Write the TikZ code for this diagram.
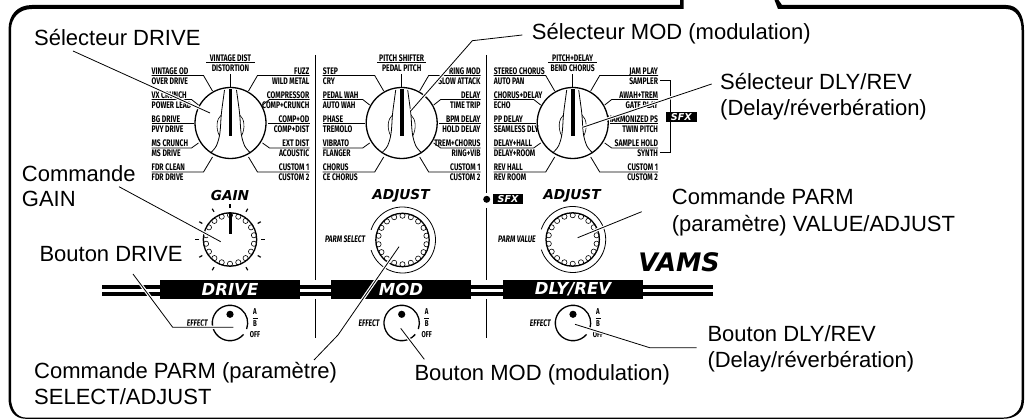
\documentclass[tikz,border=0pt]{standalone}
\usepackage{fontspec}
\setmainfont{Liberation Sans}
\newfontfamily\dialfont[FakeStretch=0.72]{Fira Sans}
\newfontfamily\headfont[BoldFeatures={FakeBold=1.6}]{DejaVu Sans}
\usepackage{tikz}
\usetikzlibrary{positioning,calc}

% one row of labels round a selector
\newcommand{\dialrows}[4]{%
  \foreach \row/\up/\lo in {#4} {
    \pgfmathsetmacro{\ry}{{-47.5,-23.5,0.5,25,49}[\row-1]}
    \pgfmathsetmacro{\knee}{{27,39,37,39,27}[\row-1]}
    \pgfmathsetmacro{\ex}{{18,32,37,32,18}[\row-1]}
    \pgfmathsetmacro{\ey}{{-32,-18,0.5,20,34}[\row-1]}
    \node[dialtext, anchor=base #2] (#1-\row a) at (#3,\ry-1.3) {\up};
    \node[dialtext, anchor=base #2] (#1-\row b) at (#3,\ry+8.7) {\lo};
    \ifdim #3pt<0pt
      \draw[dialrule] (#3,\ry) -- (-\knee,\ry) -- (-\ex,\ey);
    \else
      \draw[dialrule] (#3,\ry) -- (\knee,\ry) -- (\ex,\ey);
    \fi
  }
}
% selector: name, x, right edge, top labels, left rows, right rows
\newcommand{\selectordial}[7]{%
  \begin{scope}[shift={(#2,123)}]
    \node[dialtext, anchor=base] (#1-topa) at (0,-61.6) {#4};
    \node[dialtext, anchor=base] (#1-topb) at (0,-51.6) {#5};
    \draw[dialrule] (-24.5,-60.3) -- (24.5,-60.3);
    \draw[dialrule] (0,-49) -- (0,-36);
    \dialrows{#1-l}{west}{-79}{#6}
    \dialrows{#1-r}{east}{#3}{#7}
    \draw[knobline] (0,0) circle (35.5);
    \foreach \side in {1,-1} {
      \draw[dialrule, xscale=\side] (6,-33) .. controls (8,-18) and (9,-12) .. (9.5,-5)
        .. controls (10,3) and (10,12) .. (13,20) .. controls (14,24) and (17,27) .. (20,30);
      \draw[thinline, xscale=\side] (9.3,-8) .. controls (14,-4) and (15,5) .. (11,13);
    }
    \fill (-1.8,-34) rectangle (1.8,13);
  \end{scope}
}
% scalloped knob ring
\newcommand{\scallopring}[3]{%
  \begin{scope}[shift={(#2,#3)}]
    \foreach \ang in {10,30,...,350}
      \draw[thinline, fill=white] (\ang:24.3) circle (2.6);
    \draw[knobline] (0,0) circle (26.7);
  \end{scope}
}
% on/off switch
\newcommand{\effectswitch}[2]{%
  \begin{scope}[shift={(#2,323)}]
    \draw[knobline] (40:17.7) arc (40:380:17.7);
    \fill (0,-8.7) circle (3.6);
    \node[dialtext, anchor=east] (#1-effect) at (-22,0) {\itshape EFFECT};
    \node[dialtext, font=\dialfont\bfseries\fontsize{8.5}{9}\selectfont] (#1-a) at (25,-11) {A};
    \node[dialtext, font=\dialfont\bfseries\fontsize{8.5}{9}\selectfont] (#1-b) at (25,0.7) {B};
    \node[dialtext, font=\dialfont\bfseries\fontsize{8.5}{9}\selectfont] (#1-off) at (25,12) {OFF};
    \draw[dialrule] (22.5,-5) -- (27.5,-5);
  \end{scope}
}

\begin{document}
\begin{tikzpicture}[
  x=1pt, y=-1pt,
  dialtext/.style={font=\dialfont\bfseries\fontsize{9.5}{10}\selectfont, inner sep=0pt},
  dialrule/.style={line width=0.8pt},
  thinline/.style={line width=0.6pt},
  knobline/.style={line width=1.3pt},
  divider/.style={line width=1.4pt},
  gaintick/.style={line width=1.2pt},
  heading/.style={font=\headfont\bfseries\itshape\fontsize{13.7}{14}\selectfont, inner sep=0pt},
  bandbox/.style={fill=black, text=white, minimum width=140pt, minimum height=19pt, inner sep=0pt,
    font=\headfont\bfseries\itshape\fontsize{16.5}{17}\selectfont},
  sfxbox/.style={fill=black, text=white, minimum width=30pt, minimum height=10pt, inner sep=0pt,
    font=\headfont\bfseries\itshape\fontsize{9.5}{10}\selectfont},
  callout/.style={font=\fontsize{22}{25.7}\selectfont, anchor=base west, align=left, inner sep=0pt},
  leader/.style={line width=0.8pt, preaction={draw=white, line width=3.2pt}}
]
  \useasboundingbox (0,0) rectangle (1026,419);

  % frame
  \fill (680,0) -- (680,5) -- (32,5) .. controls (17,5) and (8.5,15) .. (8.5,30) -- (8.5,398)
    .. controls (8.5,410) and (14,418.8) .. (26,418.8) -- (1003,418.8)
    .. controls (1016,418.8) and (1024,412) .. (1024,400) -- (1024,30)
    .. controls (1024,15) and (1018,5) .. (1006,5) -- (782,5) -- (778.5,0) -- (774.5,0) -- (778,9)
    -- (1006,9) .. controls (1016,9) and (1021.5,18) .. (1021.5,30) -- (1021.5,400)
    .. controls (1021.5,410) and (1014,417.6) .. (1003,417.6) -- (26,417.6)
    .. controls (16,417.6) and (11,408) .. (11,398) -- (11,30)
    .. controls (11,18) and (19,9) .. (32,9) -- (683.5,9) -- (683.5,0) -- cycle;

  % dividers
  \draw[divider] (315.5,55) -- (315.5,280) (315.5,299) -- (315.5,337.7);
  \draw[divider] (486.7,55) -- (486.7,193) (486.7,208) -- (486.7,280) (486.7,299) -- (486.7,337.7);

  % selectors
  \selectordial{drive}{230.5}{79}{VINTAGE DIST}{DISTORTION}
    {1/VINTAGE OD/OVER DRIVE,2/VX CRUNCH/POWER LEAD,3/BG DRIVE/PVY DRIVE,4/MS CRUNCH/MS DRIVE,5/FDR CLEAN/FDR DRIVE}
    {1/FUZZ/WILD METAL,2/COMPRESSOR/COMP+CRUNCH,3/COMP+OD/COMP+DIST,4/EXT DIST/ACOUSTIC,5/CUSTOM 1/CUSTOM 2}
  \selectordial{mod}{401.7}{79}{PITCH SHIFTER}{PEDAL PITCH}
    {1/STEP/CRY,2/PEDAL WAH/AUTO WAH,3/PHASE/TREMOLO,4/VIBRATO/FLANGER,5/CHORUS/CE CHORUS}
    {1/RING MOD/SLOW ATTACK,2/DELAY/TIME TRIP,3/BPM DELAY/HOLD DELAY,4/TREM+CHORUS/RING+VIB,5/CUSTOM 1/CUSTOM 2}
  \selectordial{dly}{572.7}{85.5}{PITCH+DELAY}{BEND CHORUS}
    {1/STEREO CHORUS/AUTO PAN,2/CHORUS+DELAY/ECHO,3/PP DELAY/SEAMLESS DLY,4/DELAY+HALL/DELAY+ROOM,5/REV HALL/REV ROOM}
    {1/JAM PLAY/SAMPLER,2/AWAH+TREM/GATE PLAY,3/HARMONIZED PS/TWIN PITCH,4/SAMPLE HOLD/SYNTH,5/CUSTOM 1/CUSTOM 2}

  % SFX marks
  \draw[dialrule] (660,80.7) -- (670.7,80.7) -- (670.7,152.7) -- (660,152.7);
  \node[sfxbox, minimum width=31pt] (sfxright) at (681.3,116.7) {SFX};
  \fill (486.7,199.3) circle (3.5);
  \node[sfxbox] (sfxmid) at (508,199) {SFX};

  % knobs
  \node[heading] (gain) at (230,195.5) {GAIN};
  \scallopring{gainknob}{230}{239.5}
  \fill (228.5,213) rectangle (231.5,234);
  \foreach \ang in {-60,-30,30,60,120,150,210,240}
    \draw[gaintick] (230,239.5) ++(\ang:32) -- ++(\ang:3.5);
  \foreach \ang in {0,90,180}
    \draw[gaintick, line width=1.6pt] (230,239.5) ++(\ang:-31) -- ++(\ang:-4);

  \node[heading] (adjustmod) at (401,195.5) {ADJUST};
  \node[heading] (adjustdly) at (572,195.5) {ADJUST};
  \scallopring{modknob}{402.5}{240}
  \scallopring{dlyknob}{572.7}{239.5}
  \foreach \cx/\cy in {402.5/240,572.7/239.5}
    \draw[thinline, line width=0.8pt] (\cx,\cy) ++(198:33) arc (198:522:33);
  \node[dialtext, font=\dialfont\bfseries\itshape\fontsize{9.5}{10}\selectfont] (parmselect) at (345.2,239.5) {PARM SELECT};
  \node[dialtext, font=\dialfont\bfseries\itshape\fontsize{9.5}{10}\selectfont] (parmvalue) at (517,239.5) {PARM VALUE};

  % band
  \fill (101.7,285) rectangle (712.7,289);
  \fill (101.7,292) rectangle (712.7,296);
  \node[bandbox] (banddrive) at (230,289.5) {DRIVE};
  \node[bandbox] (bandmod) at (401,289.5) {MOD};
  \node[bandbox] (banddly) at (573,289.5) {DLY/REV};
  \node[inner sep=0pt, font=\headfont\bfseries\itshape\fontsize{25.5}{26}\selectfont] (vams) at (679,262) {VAMS};

  % switches
  \effectswitch{swdrive}{230}
  \effectswitch{swmod}{401.7}
  \effectswitch{swdly}{573}

  % leader ends
  \coordinate (a1) at (73,51);      \coordinate (a2) at (210,113);
  \coordinate (b1) at (119,186.7);  \coordinate (b2) at (220.7,241.7);
  \coordinate (c1) at (133,274);    \coordinate (c2) at (172.7,327.3); \coordinate (c3) at (233.3,327.3);
  \coordinate (d1) at (314,360);    \coordinate (d2) at (338,335);     \coordinate (d3) at (399,246.7);
  \coordinate (e1) at (424.3,359.3); \coordinate (e2) at (400.7,328.3);
  \coordinate (f1) at (696.7,347.8); \coordinate (f2) at (650,347.8);  \coordinate (f3) at (575,324.3);
  \coordinate (g1) at (522.3,35);   \coordinate (g2) at (472.3,40.7);  \coordinate (g3) at (411,110.7);
  \coordinate (h1) at (711.7,84);   \coordinate (h2) at (582.7,127.3);
  \coordinate (i1) at (641.7,211.7); \coordinate (i2) at (577.7,237.7);

  \draw[leader] (a1) -- (a2);
  \draw[leader] (b1) -- (b2);
  \draw[leader] (c1) -- (c2) -- (c3);
  \draw[leader] (d1) -- (d2) -- (d3);
  \draw[leader] (e1) -- (e2);
  \draw[leader] (f1) -- (f2) -- (f3);
  \draw[leader] (g1) -- (g2) -- (g3);
  \draw[leader] (h1) -- (h2);
  \draw[leader] (i1) -- (i2);

  % callouts
  \node[callout] (seldrive) at (34,45.7) {Sélecteur DRIVE};
  \node[callout] (cmdgain) at (21.7,207) {Commande\\GAIN};
  \node[callout] (btndrive) at (39.3,262) {Bouton DRIVE};
  \node[callout] (cmdselect) at (34,404.3) {Commande PARM (paramètre)\\SELECT/ADJUST};
  \node[callout] (btnmod) at (414.3,380.7) {Bouton MOD (modulation)};
  \node[callout] (btndly) at (707.3,367.3) {Bouton DLY/REV\\(Delay/réverbération)};
  \node[callout] (selmod) at (531.7,40) {Sélecteur MOD (modulation)};
  \node[callout] (seldly) at (720,115.7) {Sélecteur DLY/REV\\(Delay/réverbération)};
  \node[callout] (cmdvalue) at (671.7,231.7) {Commande PARM\\[1.5pt](paramètre) VALUE/ADJUST};
\end{tikzpicture}
\end{document}
